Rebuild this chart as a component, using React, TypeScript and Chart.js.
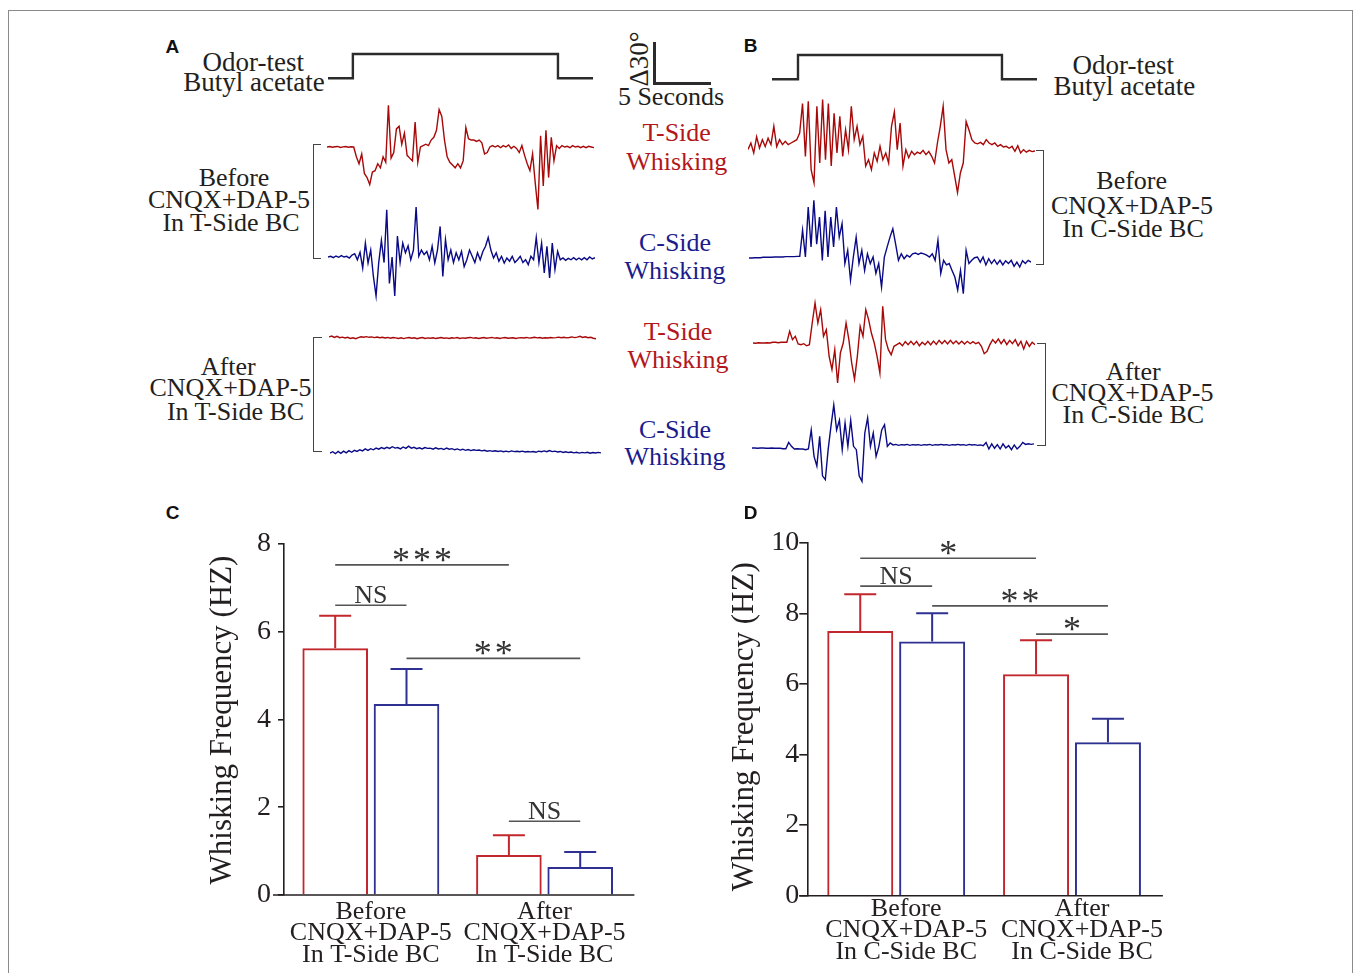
import React, { useEffect, useRef } from "react";
import { Chart, registerables } from "chart.js";
Chart.register(...registerables);

const SERIF = "'Liberation Serif', 'Times New Roman', Times, serif";
const SANS = "'Liberation Sans', Arial, sans-serif";
const INK = "#231f20";
const RED_TXT = "#b3171c";
const BLUE_TXT = "#1c1c8c";
const RED_TRACE = "#a80808";
const BLUE_TRACE = "#0a0a86";
const RED_BAR = "#c1272d";
const BLUE_BAR = "#2e3192";
const PX_PER_DEG = 41.7 / 30; // from the 30° scale bar
const PX_PER_SEC = 56.4 / 5; // from the 5 s scale bar

// ---------- Odor stimulus (seconds / on-off) ----------
const odorTimesA = [0, 2.2, 2.2, 20.35, 20.35, 23.45];
const odorLevelA = [0, 0, 1, 1, 0, 0];
const odorTimesB = [0, 2.3, 2.3, 20.35, 20.35, 23.45];
const odorLevelB = [0, 0, 1, 1, 0, 0];

// ---------- Whisker angle traces (degrees, uniform sampling) ----------
const traceA_TBefore = [0, 0.3, -0.2, 0.2, 0.4, -0.3, 0.1, 0.3, -0.2, 0.2, 0,
  -7, -12, -5, -19, -22, -27, -18, -17, -12, -15, -7, -11, 30, -8, -4, 13, 15, 2, 10, -6, -8, -10, 18, -11,
  0, 1, 2, 1, 5, 7, 12, 27, 22, 5, -7, -11, -13, -15, -12, -15, -10, 14, 6, 5, 5, 4, 5, 3, -5, -4,
  0, 1, 0, 1, -0.5, 1, 0, 1.5, -1, 0.5, -1, -4, 1, -6, -12, -17, -5, -26, -45, 8, -28, 12, -22, 7, -10,
  1, -1, 1, 0, 0.5, -0.5, 1, 0, 0.5, -0.5, 0.5, -0.5, 0.5, 0, -0.5];
const traceA_CBefore = [0, 0.5, -0.5, 0.7, -0.2, 1, 0, 0.5, -0.7, 1.4, 2.4, -2, 3.4, -8, 10, -4.3, 5, -14, -28, -4,
  12, -4, 34, -19, 0, -28, 15, -4, 10, 3, 8, -2, 5, 36, 0.5, 5, 1.7, 4, -2, 7.7, -4.3, 5, 22, -14, 12.5,
  -2, 5, -4, 3, -2, 4, -7, -2, 5, 0.5, -4, 3, -2, 4, 7.7, 14, 5, -0.7, 3, -3, 0.5, -4.3, -0.7, -3, 0.5,
  -4, -2, 0.5, -4, -2, -5.5, 0.5, -2, 14, -4, 10, -11.5, 7.7, -15, 10, -9, 4, -2, -0.7, -2.4, -1, -2,
  -0.5, -2, -0.7, -2, -0.5, -2, 0, -1.4, -0.5];
const traceA_TAfter = [0.8, 1.4, 0.4, 1.2, 0.2, 0.6, 0, 0.5, -0.3, 0.2, -0.5, 0.3, 0.9, 0.6, 1, 0.5, 0.8, 0.3, 0.7,
  0.2, 0.5, 0, 0.4, -0.2, 0.3, 0.1, -0.3, 0.2, -0.4, 0.1, 0.3, -0.2, 0.2, -0.5, 0, 0.3, -0.3, 0.1, -0.2, 0.2,
  -0.4, 0, 0.3, -0.2, 0.1, -0.3, 0.2, -0.1, 0.3, -0.3, 0.1, -0.2, 0.2, 0.4, -0.1, 0.2, -0.3, 0, 0.3, -0.2,
  0.1, 0.4, -0.1, 0.2, -0.3, 0.1, 0.3, -0.2, 0, 0.2, -0.3, 0.1, 0.3, 0, 0.4, -0.1, 0.2, 0.5, 0.1, 0.3, -0.2,
  0.2, 0, 0.4, 0.1, 0.3, 0.6, 0.2, 0.5, 0.1, 0.4, 0.8, 0.3, 0.6, 1.2, 0.4, 0.9, 0.2, 0.5, -0.2, -0.6];
const traceA_CAfter = [-0.8, 0.2, -1.2, 0.4, -1, 0.6, -0.6, 1, -0.2, 1.2, 0.4, 1.6, 0.8, 2.2, 1.2, 2.4, 1.6, 2.8, 2,
  3.2, 2.4, 3.4, 2.6, 3.8, 2.8, 3.2, 2.2, 3.6, 2.6, 4.2, 2.8, 3.4, 2.4, 3, 2.2, 3.2, 2.6, 2.8, 2, 3, 2.2,
  2.6, 1.8, 2.8, 2, 2.4, 1.6, 2.2, 1.4, 2, 1.2, 1.8, 1, 1.6, 1.2, 1.4, 0.8, 1.2, 0.6, 1, 0.5, 0.9, 0.4,
  0.8, 0.2, 0.6, 0.1, 0.8, 0.3, 0.5, 0.2, 0.6, 0, 0.4, 0.1, 0.3, -0.2, 0.6, 0.2, 0.8, 0.2, 1, 0.3, 0.6, 0,
  0.4, -0.3, 0.2, -0.4, 0, -0.6, -0.2, -0.8, -0.3, -0.6, -0.2, -0.9, -0.4, -0.7, -0.3, -0.6];
const traceB_TBefore = [-1, 3.6, -3.6, 8, 0, 6, 1, 7, 2.4, 15.6, 1, 6, 2.4, 4.8, 2.4, 3.6, 4.8, 6, 10.8,
  32, -6, 33.6, -15.6, -25, 30, -10.8, 34.8, -8.4, 32, -13, 25, -3.6, 22.8, -6, 13, -1.2, 30, 6, 15.6, 2.4,
  8.4, -13, -8.4, -15.6, -3.6, -9.6, 1.2, -8.4, -3.6, -10.8, 15.6, 26, -1.2, 18, -13, -1.2, -7, -2.4, -4.8,
  -3, -4, -1.7, -4.8, -2.4, -6, -10.8, 3.6, 15.6, 30, -1.2, -10.8, -8.4, -20, -32, -18, -10.8, 19, 13, 6,
  3.6, 3, 4, 2.4, 6, 3.6, 2.4, 3.6, 1.2, 2.4, 0.7, 1.2, -0.2, 1.2, -2.4, 1.7, -3.6, -1.2, -3, -1.7, -2.6, -2.2];
const traceB_CBefore = [0, 0, 0.2, 0.2, 0.2, 0.5, 0.5, 0.5, 0.5, 0.7, 0.7, 0.7, 0.7, 1, 1, 1, 1, 1.2, 1.2,
  20, 0.7, 36.7, 8, 41.5, 10, 29.5, -1.7, 34, 0.7, 29.5, 8, 36.7, 15, 24.7, -4, 5.5, -16, 0.7, 15, -4, 5.5,
  -9, 3, -4, 0.7, -11, -4, -21, 0.7, 8, 15, 21, 10, -1.7, 3, -0.5, 2, 0.7, 3, 3.6, 2.6, 3.6, 3, 2, 0.7, 3,
  -1.7, 12.7, -11, -1.7, -5, -4, -9, -13.7, -23, -9, -25.7, 5.5, -4, -1.7, 0.2, 0.7, -3, 0.7, -5, -0.5, -4,
  -1.2, -4.5, -1.7, -5, -2, -4, -1.7, -6, -3, -6.5, -2, -4, -1.7, -3];
const traceB_TAfter = [0, -0.2, 0.2, 0, 0, 0.2, 0, 0.5, 0.5, 0.2, 0.5, 0.5, 0.5, 8.4, 2.4, 4.8, -0.7, -1.2,
  -0.5, -2, -1.2, 14.4, 28.8, 14.4, 24, 4.8, 9.6, -9.6, -19, -4.8, -28.8, -7, 0, 14.4, 2.4, -14.4, -26, -9.6,
  12, 4.8, 24, 16.8, 7, 0, -9.6, -21.6, 26.4, 2.4, -4.8, -8.4, -2.4, -1.2, 0, -2, 1, -1.2, 1.2, -1.2, 1.2,
  -2, 0.5, -1.2, 1.2, -1.4, 1.4, -1, 1.9, -0.5, 1.7, -0.7, 1.9, -0.5, 1.4, -0.7, 1.2, -0.7, 1.2, -0.5, 1,
  -0.5, 0.5, -2.4, -7.7, -6, -1.2, 2.4, 0, 2.9, -0.5, 2.4, -1.2, 1.9, -0.5, 2.4, -2, 1.2, -4.3, 1.2, -2.4, 0.5, -1.2];
const traceB_CAfter = [0, 0, -0.2, 0, 0, -0.2, -0.2, 0, -0.2, -0.2, -0.2, -0.5, -0.5, 4, 1.2, -0.7, -0.5,
  -0.7, -0.7, -1.2, -0.7, 13, -6, -13, 8.4, -20, -22.8, -1.2, 15.6, 31, 13, 20, -1.2, 18, 1.2, 20, 1.2,
  -1.2, -20, -24, 10.8, 21.6, 1.2, 10.8, -6, 1.2, 13, 16.8, 1.2, 3.6, 2.2, 2.6, 1.9, 2.4, 2.2, 2.6, 1.9,
  2.4, 2.2, 2.4, 1.9, 2.4, 2.2, 2.6, 1.9, 2.4, 2.2, 2.6, 2.2, 2.4, 1.9, 2.4, 2.2, 2.6, 2.2, 2.4, 1.9, 2.6,
  2.2, 2.4, 1.9, 2.2, 1.7, 4, -0.7, 3, -0.2, 2.4, -0.7, 3, 0, 1.7, -1.2, 2.2, -0.7, 1.2, 4, 2.6, 3, 2.6, 3];

// ---------- Panel C ----------
const groupLabelsC = [["Before", "CNQX+DAP-5", "In T-Side BC"], ["After", "CNQX+DAP-5", "In T-Side BC"]];
const tSideC = [5.62, 0.91];
const tSideErrC = [0.74, 0.45];
const cSideC = [4.35, 0.64];
const cSideErrC = [0.8, 0.34];
const yTicksC = [0, 2, 4, 6, 8];
const sigTextC = ["***", "NS", "**", "NS"];
const sigLevelC = [7.52, 6.6, 5.39, 1.68];
const sigFromC = [[0, 0], [0, 0], [1, 0], [0, 1]];
const sigToC = [[0, 1], [1, 0], [1, 1], [1, 1]];

// ---------- Panel D ----------
const groupLabelsD = [["Before", "CNQX+DAP-5", "In C-Side BC"], ["After", "CNQX+DAP-5", "In C-Side BC"]];
const tSideD = [7.5, 6.27];
const tSideErrD = [1.04, 0.97];
const cSideD = [7.2, 4.35];
const cSideErrD = [0.8, 0.66];
const yTicksD = [0, 2, 4, 6, 8, 10];
const sigTextD = ["*", "NS", "**", "*"];
const sigLevelD = [9.56, 8.77, 8.21, 7.41];
const sigFromD = [[0, 0], [0, 0], [1, 0], [0, 1]];
const sigToD = [[0, 1], [1, 0], [1, 1], [1, 1]];

const Y_TITLE = "Whisking Frequency (HZ)";

function Txt(p: any) {
  const { x, y, s = 26, c = INK, rot = 0, bold = false, sans = false, children } = p;
  return (
    <div
      style={{
        position: "absolute", left: x, top: y,
        transform: `translate(-50%,-50%)${rot ? ` rotate(${rot}deg)` : ""}`,
        fontSize: s, lineHeight: 1, color: c, whiteSpace: "nowrap",
        fontFamily: sans ? SANS : SERIF, fontWeight: bold ? 700 : 400,
      }}
    >
      {children}
    </div>
  );
}

function Trace(p: any) {
  const { values, color, left, right, baseline, lw = 1.4 } = p;
  const ref = useRef<HTMLCanvasElement>(null);
  const H = 140;
  useEffect(() => {
    const range = H / 2 / PX_PER_DEG;
    const chart = new Chart(ref.current as HTMLCanvasElement, {
      type: "line",
      data: {
        datasets: [{
          data: values.map((v: number, i: number) => ({ x: i, y: v })),
          borderColor: color, borderWidth: lw, pointRadius: 0, tension: 0, fill: false,
        }],
      },
      options: {
        responsive: false, animation: false, events: [],
        layout: { padding: 0 },
        plugins: { legend: { display: false }, tooltip: { enabled: false } },
        scales: {
          x: { type: "linear", display: false, min: 0, max: values.length - 1 },
          y: { display: false, min: -range, max: range },
        },
      },
    } as any);
    return () => chart.destroy();
  }, []);
  return (
    <canvas ref={ref} width={Math.round(right - left)} height={H}
      style={{ position: "absolute", left, top: baseline - H / 2, display: "block" }} />
  );
}

function OdorStep(p: any) {
  const { times, levels, left, lowY } = p;
  const ref = useRef<HTMLCanvasElement>(null);
  const unit = 24.3; // px per "on" level
  const top = lowY - 34.3;
  const H = 44;
  const tMax = times[times.length - 1];
  const W = Math.round(tMax * PX_PER_SEC);
  useEffect(() => {
    const max = 1 + 10 / unit;
    const min = -(H - 34.3) / unit;
    const chart = new Chart(ref.current as HTMLCanvasElement, {
      type: "line",
      data: {
        datasets: [{
          data: times.map((t: number, i: number) => ({ x: t, y: levels[i] })),
          borderColor: "#2b2b2b", borderWidth: 2.4, pointRadius: 0, tension: 0, fill: false,
          borderCapStyle: "butt", borderJoinStyle: "miter",
        }],
      },
      options: {
        responsive: false, animation: false, events: [],
        layout: { padding: 0 },
        plugins: { legend: { display: false }, tooltip: { enabled: false } },
        scales: {
          x: { type: "linear", display: false, min: 0, max: tMax },
          y: { display: false, min, max },
        },
      },
    } as any);
    return () => chart.destroy();
  }, []);
  return <canvas ref={ref} width={W} height={H} style={{ position: "absolute", left, top, display: "block" }} />;
}

function BarPanel(p: any) {
  const ref = useRef<HTMLCanvasElement>(null);
  const { left, top, width, height, axisX, axisTopY, axisBottomY, areaRight, labels, tVals, tErr, cVals, cErr,
    yTicks, yMax, sigText, sigLevel, sigFrom, sigTo, tickLen, tickPad, baseExt, labelOffset, labelPad,
    titleX, titleY, catPct, barPct } = p;
  useEffect(() => {
    const vals = [tVals, cVals];
    const errs = [tErr, cErr];
    const cols = [RED_BAR, BLUE_BAR];
    const extras = {
      id: "extras",
      afterDatasetsDraw(chart: any) {
        const ctx = chart.ctx;
        const ys = chart.scales.y;
        const area = chart.chartArea;
        ctx.save();
        // x baseline
        ctx.strokeStyle = INK;
        ctx.lineWidth = 1.6;
        ctx.beginPath();
        ctx.moveTo(area.left - baseExt, area.bottom);
        ctx.lineTo(area.right + 3, area.bottom);
        ctx.stroke();
        // error bars
        for (let d = 0; d < 2; d++) {
          const meta = chart.getDatasetMeta(d);
          meta.data.forEach((el: any, j: number) => {
            const yTop = ys.getPixelForValue(vals[d][j] + errs[d][j]);
            ctx.strokeStyle = cols[d];
            ctx.lineWidth = 2;
            ctx.beginPath();
            ctx.moveTo(el.x, el.y);
            ctx.lineTo(el.x, yTop);
            ctx.moveTo(el.x - 16, yTop);
            ctx.lineTo(el.x + 16, yTop);
            ctx.stroke();
          });
        }
        // significance
        for (let k = 0; k < sigText.length; k++) {
          const a = chart.getDatasetMeta(sigFrom[k][0]).data[sigFrom[k][1]];
          const b = chart.getDatasetMeta(sigTo[k][0]).data[sigTo[k][1]];
          const yy = ys.getPixelForValue(sigLevel[k]);
          ctx.strokeStyle = "#555";
          ctx.lineWidth = 1.6;
          ctx.beginPath();
          ctx.moveTo(a.x, yy);
          ctx.lineTo(b.x, yy);
          ctx.stroke();
          const mid = (a.x + b.x) / 2;
          ctx.fillStyle = "#333";
          ctx.textAlign = "center";
          ctx.textBaseline = "alphabetic";
          const txt = sigText[k];
          if (txt.indexOf("*") >= 0) {
            const n = txt.length;
            const pitch = 21;
            const fs = 36;
            ctx.font = `${fs}px ${SERIF}`;
            for (let i = 0; i < n; i++) {
              const cx = mid + (i - (n - 1) / 2) * pitch;
              ctx.fillText("*", cx, yy - 10 + 0.47 * fs);
            }
          } else {
            const fs = 26;
            ctx.font = `${fs}px ${SERIF}`;
            ctx.fillText(txt, mid, yy - 11 + 0.33 * fs);
          }
        }
        // y title
        ctx.save();
        ctx.translate(titleX - left, titleY - top);
        ctx.rotate(-Math.PI / 2);
        ctx.fillStyle = INK;
        ctx.font = `31px ${SERIF}`;
        ctx.textAlign = "center";
        ctx.textBaseline = "middle";
        ctx.fillText(Y_TITLE, 0, 0);
        ctx.restore();
        ctx.restore();
      },
    };
    const chart = new Chart(ref.current as HTMLCanvasElement, {
      type: "bar",
      data: {
        labels,
        datasets: [
          { label: "T-Side", data: tVals, borderColor: RED_BAR, backgroundColor: "rgba(255,255,255,0)",
            borderWidth: 2, borderSkipped: "bottom", categoryPercentage: catPct, barPercentage: barPct },
          { label: "C-Side", data: cVals, borderColor: BLUE_BAR, backgroundColor: "rgba(255,255,255,0)",
            borderWidth: 2, borderSkipped: "bottom", categoryPercentage: catPct, barPercentage: barPct },
        ],
      },
      options: {
        responsive: false, animation: false, events: [],
        layout: { padding: { top: axisTopY - top, right: left + width - areaRight, left: 0, bottom: 0 } },
        plugins: { legend: { display: false }, tooltip: { enabled: false } },
        scales: {
          x: {
            offset: true,
            grid: { display: false, drawTicks: false },
            border: { display: false },
            ticks: {
              font: { family: SERIF, size: 26, lineHeight: 0.83 }, color: INK, padding: labelPad,
              labelOffset, maxRotation: 0, autoSkip: false,
            },
            afterFit: (s: any) => { s.height = top + height - axisBottomY; },
          },
          y: {
            min: 0, max: yMax,
            grid: { drawOnChartArea: false, drawTicks: true, tickLength: tickLen, color: INK, lineWidth: 1.6 },
            border: { display: true, color: INK, width: 1.6 },
            ticks: { font: { family: SERIF, size: 28 }, color: INK, padding: tickPad },
            afterFit: (s: any) => { s.width = axisX - left; },
            afterBuildTicks: (s: any) => { s.ticks = yTicks.map((v: number) => ({ value: v })); },
          },
        },
      },
      plugins: [extras],
    } as any);
    return () => chart.destroy();
  }, []);
  return <canvas ref={ref} width={width} height={height} style={{ position: "absolute", left, top, display: "block" }} />;
}

function Bracket(p: any) {
  const { x, y1, y2, side } = p;
  const w = 8.5;
  const style: any = {
    position: "absolute", top: y1 - 0.75, height: y2 - y1 + 1.5, width: w, boxSizing: "border-box",
    borderTop: "1.5px solid #444", borderBottom: "1.5px solid #444",
  };
  if (side === "left") { style.left = x - 0.75; style.borderLeft = "1.5px solid #444"; }
  else { style.left = x - w + 0.75; style.borderRight = "1.5px solid #444"; }
  return <div style={style} />;
}

export default function App() {
  return (
    <div style={{ position: "absolute", left: 0, top: 0, width: 1354, height: 973, background: "#fff", overflow: "hidden" }}>
      <div style={{ position: "absolute", left: 8, top: 10, width: 1345, height: 990, border: "1px solid #8a8a8a", boxSizing: "border-box" }} />

      {/* ---------- Panel A ---------- */}
      <Txt x={172.3} y={46} s={19} bold sans c="#111">A</Txt>
      <Txt x={253.3} y={61.7} s={27}>Odor-test</Txt>
      <Txt x={254} y={81.7} s={27}>Butyl acetate</Txt>
      <OdorStep times={odorTimesA} levels={odorLevelA} left={328.3} lowY={78.3} />

      <div style={{ position: "absolute", left: 653, top: 41.7, width: 2.5, height: 42.9, background: "#2b2b2b" }} />
      <div style={{ position: "absolute", left: 653, top: 82.1, width: 57.7, height: 2.5, background: "#2b2b2b" }} />
      <Txt x={639} y={59} s={27} rot={-90}>Δ30°</Txt>
      <Txt x={671} y={96.7} s={26}>5 Seconds</Txt>

      <Trace values={traceA_TBefore} color={RED_TRACE} left={326.7} right={594} baseline={146.7} />
      <Trace values={traceA_CBefore} color={BLUE_TRACE} left={328.3} right={595} baseline={257.3} />
      <Trace values={traceA_TAfter} color={RED_TRACE} left={329.3} right={596} baseline={337.7} />
      <Trace values={traceA_CAfter} color={BLUE_TRACE} left={330} right={600.7} baseline={451.7} />

      <Bracket x={313.3} y1={144.3} y2={258.7} side="left" />
      <Bracket x={314} y1={337.7} y2={451.7} side="left" />

      <Txt x={234} y={178.3}>Before</Txt>
      <Txt x={229} y={200}>CNQX+DAP-5</Txt>
      <Txt x={231} y={222.7}>In T-Side BC</Txt>
      <Txt x={228.3} y={366.7}>After</Txt>
      <Txt x={230.5} y={388.3}>CNQX+DAP-5</Txt>
      <Txt x={235.5} y={411.7}>In T-Side BC</Txt>

      <Txt x={676.7} y={133.3} c={RED_TXT}>T-Side</Txt>
      <Txt x={676.7} y={161.7} c={RED_TXT}>Whisking</Txt>
      <Txt x={675} y={243.3} c={BLUE_TXT}>C-Side</Txt>
      <Txt x={675} y={270.5} c={BLUE_TXT}>Whisking</Txt>
      <Txt x={678} y={331.7} c={RED_TXT}>T-Side</Txt>
      <Txt x={678} y={360} c={RED_TXT}>Whisking</Txt>
      <Txt x={675} y={430} c={BLUE_TXT}>C-Side</Txt>
      <Txt x={675} y={457} c={BLUE_TXT}>Whisking</Txt>

      {/* ---------- Panel B ---------- */}
      <Txt x={750.7} y={45} s={19} bold sans c="#111">B</Txt>
      <OdorStep times={odorTimesB} levels={odorLevelB} left={771.7} lowY={79} />
      <Txt x={1123.3} y={65} s={27}>Odor-test</Txt>
      <Txt x={1124.3} y={85.7} s={27}>Butyl acetate</Txt>

      <Trace values={traceB_TBefore} color={RED_TRACE} left={748.3} right={1035} baseline={148.3} />
      <Trace values={traceB_CBefore} color={BLUE_TRACE} left={749.3} right={1031.7} baseline={257.7} />
      <Trace values={traceB_TAfter} color={RED_TRACE} left={753.3} right={1035} baseline={343.3} />
      <Trace values={traceB_CAfter} color={BLUE_TRACE} left={751.7} right={1033.3} baseline={448.3} />

      <Bracket x={1043.3} y1={150.7} y2={264.3} side="right" />
      <Bracket x={1045} y1={343.3} y2={445.7} side="right" />

      <Txt x={1131.7} y={180.7}>Before</Txt>
      <Txt x={1132} y={206}>CNQX+DAP-5</Txt>
      <Txt x={1133} y={229.3}>In C-Side BC</Txt>
      <Txt x={1133.3} y={371.7}>After</Txt>
      <Txt x={1132.5} y={393.3}>CNQX+DAP-5</Txt>
      <Txt x={1133.3} y={415}>In C-Side BC</Txt>

      {/* ---------- Panel C ---------- */}
      <Txt x={172.7} y={511.7} s={19} bold sans c="#111">C</Txt>
      <BarPanel
        left={190} top={520} width={460} height={450}
        axisX={284} axisTopY={542.7} axisBottomY={895} areaRight={631.4}
        labels={groupLabelsC} tVals={tSideC} tErr={tSideErrC} cVals={cSideC} cErr={cSideErrC}
        yTicks={yTicksC} yMax={8} sigText={sigTextC} sigLevel={sigLevelC} sigFrom={sigFromC} sigTo={sigToC}
        tickLen={6} tickPad={7} baseExt={11} labelOffset={0} labelPad={6}
        titleX={223} titleY={720} catPct={0.821} barPct={0.92}
      />

      {/* ---------- Panel D ---------- */}
      <Txt x={750.7} y={511.7} s={19} bold sans c="#111">D</Txt>
      <BarPanel
        left={715} top={520} width={460} height={450}
        axisX={808.3} axisTopY={542.7} axisBottomY={895.7} areaRight={1159.9}
        labels={groupLabelsD} tVals={tSideD} tErr={tSideErrD} cVals={cSideD} cErr={cSideErrD}
        yTicks={yTicksD} yMax={10} sigText={sigTextD} sigLevel={sigLevelD} sigFrom={sigFromD} sigTo={sigToD}
        tickLen={9} tickPad={0} baseExt={9} labelOffset={10} labelPad={2.5}
        titleX={745} titleY={726.7} catPct={0.818} barPct={0.918}
      />
    </div>
  );
}
